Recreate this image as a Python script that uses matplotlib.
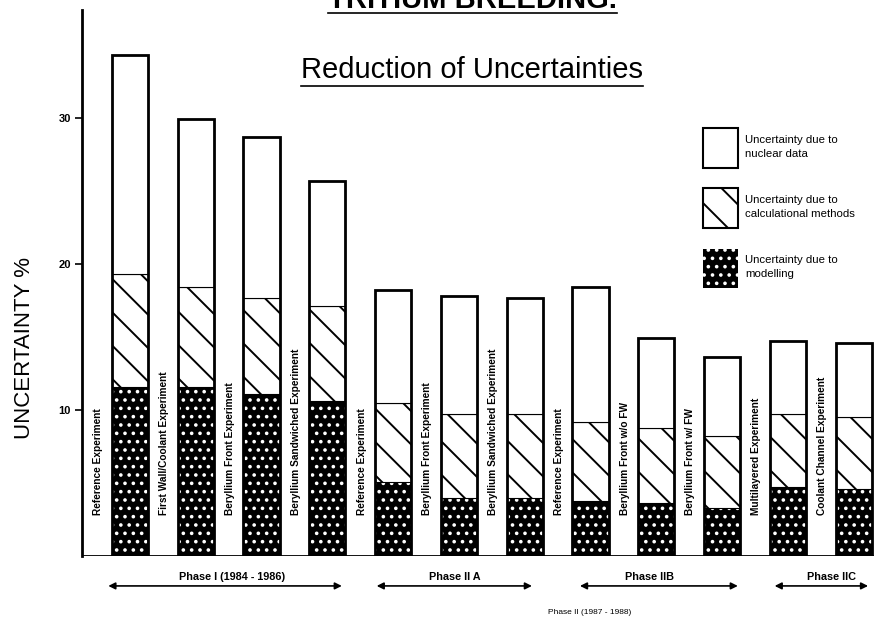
import matplotlib
import numpy as np

matplotlib.use("Agg")
import matplotlib.pyplot as plt
from matplotlib.lines import Line2D
from matplotlib.patches import Patch

plt.rcParams["font.family"] = ["Liberation Sans", "DejaVu Sans"]
plt.rcParams["hatch.linewidth"] = 1.4

# bar order as in the original report figure
experiments = [
    "Reference Experiment",
    "First Wall/Coolant Experiment",
    "Beryllium Front Experiment",
    "Beryllium Sandwiched Experiment",
    "Reference Experiment",
    "Beryllium Front Experiment",
    "Beryllium Sandwiched Experiment",
    "Reference Experiment",
    "Beryllium Front w/o FW",
    "Beryllium Front w/ FW",
    "Multilayered Experiment",
    "Coolant Channel Experiment",
]
# uncertainty components, %
modelling = [11.6, 11.6, 11.1, 10.6, 5.1, 4.0, 4.0, 3.8, 3.6, 3.3, 4.7, 4.6]
calc_methods = [7.7, 6.8, 6.6, 6.5, 5.4, 5.7, 5.7, 5.4, 5.2, 4.9, 5.0, 4.9]
nuclear_data = [15.0, 11.5, 11.0, 8.6, 7.7, 8.1, 8.0, 9.2, 6.1, 5.4, 5.0, 5.1]

legend_labels = [
    "Uncertainty due to\nnuclear data",
    "Uncertainty due to\ncalculational methods",
    "Uncertainty due to\nmodelling",
]
# (label, arrow start, arrow end, label centre) in bar-index units
phases = [
    ("Phase I (1984 - 1986)", -0.33, 3.22, 1.55),
    ("Phase II A", 3.75, 6.11, 4.94),
    ("Phase IIB", 6.84, 9.24, 7.9),
    ("Phase IIC", 9.80, 11.22, 10.67),
]

W, H = 874, 622
fig = plt.figure(figsize=(W / 100, H / 100), dpi=100)
ax = fig.add_axes([82 / W, 1 - 556 / H, 1 - 82 / W, (556 - 10) / H])

x = np.arange(len(experiments))
mod = np.array(modelling)
calc = np.array(calc_methods)
nuc = np.array(nuclear_data)
width = 0.55

ax.axhline(0, color="black", lw=1.3, zorder=0)
ax.bar(x, mod, width, facecolor="black", edgecolor="white", hatch="..", linewidth=0, zorder=2)
ax.bar(x, calc, width, bottom=mod, facecolor="white", edgecolor="black", hatch="\\", linewidth=0.8, zorder=2)
ax.bar(x, nuc, width, bottom=mod + calc, facecolor="white", edgecolor="black", linewidth=0.8, zorder=2)
ax.bar(x, mod + calc + nuc, width, fill=False, edgecolor="black", linewidth=2.0, zorder=3)

for xi, name in zip(x, experiments):
    ax.text(xi - 0.48, 2.8, name, rotation=90, ha="center", va="bottom", fontsize=7.3, fontweight="bold")

for label, x0, x1, xt in phases:
    ax.annotate(
        "", xy=(x0, -2.05), xytext=(x1, -2.05), annotation_clip=False,
        arrowprops=dict(arrowstyle="<|-|>", color="black", lw=1.2, mutation_scale=10, shrinkA=0, shrinkB=0),
    )
    ax.text(xt, -1.75, label, ha="center", va="bottom", fontsize=7.8, fontweight="bold", clip_on=False)
ax.text(6.99, -3.84, "Phase II (1987 - 1988)", ha="center", va="center", fontsize=6, clip_on=False)

ax.set_xlim(-0.73, 11.31)
ax.set_ylim(0, 37.4)
ax.set_xticks([])
ax.set_yticks([10, 20, 30])
ax.tick_params(axis="y", labelsize=8, width=1.2, length=5, pad=3)
for lbl in ax.get_yticklabels():
    lbl.set_fontweight("bold")
for side in ["top", "right", "bottom"]:
    ax.spines[side].set_visible(False)
ax.spines["left"].set_linewidth(2)

handles = [
    Patch(facecolor="white", edgecolor="black", linewidth=1.5, label=legend_labels[0]),
    Patch(facecolor="white", edgecolor="black", hatch="\\", linewidth=1.5, label=legend_labels[1]),
    Patch(facecolor="black", edgecolor="white", hatch="..", linewidth=0, label=legend_labels[2]),
]
leg = fig.legend(
    handles=handles, loc="upper left", bbox_to_anchor=(703 / W, 1 - 128 / H), frameon=False,
    fontsize=8.2, handlelength=3.1, handleheight=5.0, labelspacing=1.8, handletextpad=0.6,
    borderpad=0, borderaxespad=0,
)
for t in leg.get_texts():
    t.set_linespacing(1.5)

fig.text(25 / W, 1 - 348 / H, "UNCERTAINTY %", rotation=90, ha="center", va="center", fontsize=16)
sub = fig.text(472 / W, 1 - 78 / H, "Reduction of Uncertainties", ha="center", va="baseline", fontsize=21)
top = fig.text(472 / W, 1 - 8 / H, "TRITIUM BREEDING.", ha="center", va="baseline", fontsize=21, fontweight="bold")

# underline both headings
fig.canvas.draw()
for t, ypx in [(sub, 86), (top, 13)]:
    bb = t.get_window_extent()
    fig.add_artist(Line2D([bb.x0 / W, bb.x1 / W], [1 - ypx / H] * 2, transform=fig.transFigure, color="black", lw=1.2))

fig.savefig("out.png", dpi=100)
